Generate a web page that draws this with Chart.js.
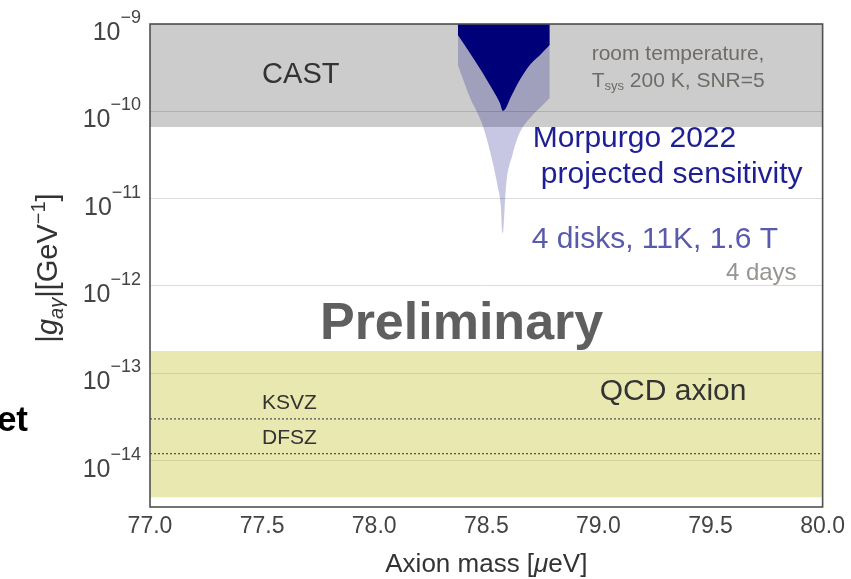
<!DOCTYPE html>
<html>
<head>
<meta charset="utf-8">
<script src="https://cdn.jsdelivr.net/npm/chart.js@4.4.1/dist/chart.umd.min.js"></script>
<style>
  html, body { margin: 0; padding: 0; background: #fff; }
  #wrap { position: relative; width: 851px; height: 579px; }
</style>
</head>
<body>
<div id="wrap"><canvas id="c"></canvas></div>
<script>
// Axion mass axis [µeV]
const massRange = [77.0, 80.0];
const massTicks = [77.0, 77.5, 78.0, 78.5, 79.0, 79.5, 80.0];

// Coupling axis |g_aγ| [GeV^-1], decades shown
const couplingExponents = [-14, -13, -12, -11, -10, -9];
const couplingRange = [2.94e-15, 1e-9];

// CAST exclusion limit
const castLimit = 6.6e-11;

// QCD axion band and benchmark models
const qcdBand = [3.8e-15, 1.8e-13];
const ksvzCoupling = 3.0e-14;
const dfszCoupling = 1.2e-14;

// Morpurgo 2022 projected sensitivity (room temperature, Tsys 200 K, SNR=5)
const morpurgoMass = [78.373, 78.426, 78.484, 78.529, 78.560, 78.574, 78.614, 78.649, 78.694, 78.739, 78.783];
const morpurgoCoupling = [7.5e-10, 4.7e-10, 2.75e-10, 1.75e-10, 1.25e-10, 1.01e-10, 1.54e-10, 2.28e-10, 3.4e-10, 4.4e-10, 5.75e-10];

// 4 disks, 11 K, 1.6 T, 4 days
const disksMass = [78.373, 78.426, 78.480, 78.507, 78.529, 78.551, 78.565, 78.569, 78.574, 78.578, 78.583, 78.591, 78.614, 78.636, 78.663, 78.707, 78.752, 78.783];
const disksCoupling = [3.39e-10, 1.46e-10, 7.35e-11, 4.34e-11, 2.56e-11, 1.36e-11, 8.0e-12, 4.7e-12, 4.0e-12, 5.3e-12, 8.9e-12, 1.64e-11, 3.0e-11, 4.7e-11, 6.6e-11, 9.1e-11, 1.18e-10, 1.42e-10];

const FONT = "'Liberation Sans', Arial, Helvetica, sans-serif";
const font = (size, style) => (style ? style + ' ' : '') + size + 'px ' + FONT;

const pts = (xs, ys) => xs.map((x, i) => ({ x: x, y: ys[i] }));
const flat = (y) => massRange.map(x => ({ x: x, y: y }));
const NONE = 'rgba(0,0,0,0)';

// Draw a run of differently styled text pieces on one baseline
function drawRuns(ctx, x, y, parts, align) {
  let total = 0;
  parts.forEach(p => { ctx.font = p.font; p.w = ctx.measureText(p.t).width; total += p.w; });
  let cx = align === 'right' ? x - total : align === 'center' ? x - total / 2 : x;
  parts.forEach(p => {
    ctx.font = p.font;
    ctx.fillStyle = p.color;
    ctx.fillText(p.t, cx, y + (p.dy || 0));
    cx += p.w;
  });
}

// Text labels placed in data coordinates (x in µeV, y as log10 of coupling, at cap-height centre)
const notes = [
  { x: 77.50, ly: -9.561, size: 29, align: 'left', parts: [{ t: 'CAST', color: '#333' }] },
  { x: 78.970, ly: -9.321, size: 21, align: 'left', parts: [{ t: 'room temperature,', color: '#6f6b66' }] },
  { x: 78.970, ly: -9.641, size: 21, align: 'left', parts: [
      { t: 'T', color: '#6f6b66' },
      { t: 'sys', color: '#6f6b66', size: 13, dy: 3 },
      { t: ' 200 K, SNR=5', color: '#6f6b66' }] },
  { x: 78.707, ly: -10.282, size: 30, align: 'left', parts: [{ t: 'Morpurgo 2022', color: '#1f1f95' }] },
  { x: 78.743, ly: -10.695, size: 30, align: 'left', parts: [{ t: 'projected sensitivity', color: '#1f1f95' }] },
  { x: 78.703, ly: -11.439, size: 30, align: 'left', parts: [{ t: '4 disks, 11K, 1.6 T', color: '#5a5aad' }] },
  { x: 79.884, ly: -11.828, size: 24, align: 'right', parts: [{ t: '4 days', color: '#99948f' }] },
  { x: 77.758, ly: -12.389, size: 52, align: 'left', style: 'bold', parts: [{ t: 'Preliminary', color: '#5f5f5f' }] },
  { x: 79.006, ly: -13.179, size: 30, align: 'left', parts: [{ t: 'QCD axion', color: '#333' }] },
  { x: 77.50, ly: -13.328, size: 21, align: 'left', parts: [{ t: 'KSVZ', color: '#333' }] },
  { x: 77.50, ly: -13.729, size: 21, align: 'left', parts: [{ t: 'DFSZ', color: '#333' }] }
];

const decorPlugin = {
  id: 'decor',
  afterDatasetsDraw(chart) {
    const ctx = chart.ctx;
    const a = chart.chartArea;
    const xs = chart.scales.x, ys = chart.scales.y;
    ctx.save();
    ctx.textBaseline = 'alphabetic';

    // annotations inside the axes
    notes.forEach(n => {
      const px = xs.getPixelForValue(n.x);
      const py = ys.getPixelForValue(Math.pow(10, n.ly)) + 0.358 * n.size;
      const parts = n.parts.map(p => ({
        t: p.t, color: p.color, dy: p.dy || 0,
        font: font(p.size || n.size, n.style)
      }));
      drawRuns(ctx, px, py, parts, n.align);
    });

    // axes frame
    ctx.strokeStyle = '#505050';
    ctx.lineWidth = 1.6;
    ctx.strokeRect(a.left, a.top, a.right - a.left, a.bottom - a.top);

    // y tick labels: 10 with superscript exponent
    couplingExponents.forEach(e => {
      const py = ys.getPixelForValue(Math.pow(10, e));
      drawRuns(ctx, a.left - 9, py + 16, [
        { t: '10', font: font(25), color: '#444' },
        { t: '\u2212' + Math.abs(e), font: font(18), color: '#444', dy: -17 }
      ], 'right');
    });

    // y axis title
    ctx.save();
    ctx.translate(57, 268);
    ctx.rotate(-Math.PI / 2);
    drawRuns(ctx, 0, 0, [
      { t: '|', font: font(29), color: '#333' },
      { t: 'g', font: font(29, 'italic'), color: '#333' },
      { t: 'a\u03b3', font: font(20, 'italic'), color: '#333', dy: 6 },
      { t: '|[GeV', font: font(29), color: '#333' },
      { t: '\u22121', font: font(20), color: '#333', dy: -12 },
      { t: ']', font: font(29), color: '#333' }
    ], 'center');
    ctx.restore();

    // x axis title
    drawRuns(ctx, (a.left + a.right) / 2, 572, [
      { t: 'Axion mass [', font: font(26), color: '#333' },
      { t: '\u03bc', font: font(26, 'italic'), color: '#333' },
      { t: 'eV]', font: font(26), color: '#333' }
    ], 'center');

    // slide heading fragment at the left edge
    ctx.font = font(35, 'bold');
    ctx.fillStyle = '#000';
    ctx.textAlign = 'right';
    ctx.fillText('et', 28, 431);
    ctx.restore();
  }
};

new Chart(document.getElementById('c'), {
  type: 'line',
  data: {
    datasets: [
      { label: 'KSVZ', data: flat(ksvzCoupling), borderColor: '#555', borderWidth: 1.2,
        borderDash: [2, 2], pointRadius: 0, fill: false, order: 1 },
      { label: 'DFSZ', data: flat(dfszCoupling), borderColor: '#555', borderWidth: 1.2,
        borderDash: [2, 2], pointRadius: 0, fill: false, order: 1 },
      { label: 'Morpurgo 2022', data: pts(morpurgoMass, morpurgoCoupling), borderColor: NONE,
        backgroundColor: '#000078', pointRadius: 0, fill: 'end', cubicInterpolationMode: 'monotone', order: 2 },
      { label: '4 disks, 11K, 1.6 T', data: pts(disksMass, disksCoupling), borderColor: NONE,
        backgroundColor: 'rgba(0,0,128,0.22)', pointRadius: 0, fill: 'end', cubicInterpolationMode: 'monotone', order: 3 },
      { label: 'QCD axion', data: flat(qcdBand[1]), borderColor: NONE,
        backgroundColor: 'rgba(189,189,29,0.35)', pointRadius: 0, fill: { value: qcdBand[0] }, order: 4 },
      { label: 'CAST', data: flat(castLimit), borderColor: NONE,
        backgroundColor: 'rgba(0,0,0,0.2)', pointRadius: 0, fill: 'end', order: 4 }
    ]
  },
  options: {
    responsive: true,
    maintainAspectRatio: false,
    animation: false,
    layout: { padding: { top: 24, right: 28, left: 0, bottom: 0 } },
    plugins: { legend: { display: false }, tooltip: { enabled: false } },
    scales: {
      x: {
        type: 'linear', min: massRange[0], max: massRange[1],
        grid: { display: false, drawTicks: false },
        border: { display: false },
        afterBuildTicks: s => { s.ticks = massTicks.map(v => ({ value: v })); },
        ticks: { font: { family: FONT, size: 23 }, color: '#444', padding: 6,
                 maxRotation: 0, autoSkip: false, callback: v => Number(v).toFixed(1) },
        afterFit: s => { s.height = 72; }
      },
      y: {
        type: 'logarithmic', min: couplingRange[0], max: couplingRange[1],
        grid: { color: '#dcdcdc', lineWidth: 1, drawTicks: false },
        border: { display: false },
        afterBuildTicks: s => { s.ticks = couplingExponents.map(e => ({ value: Math.pow(10, e) })); },
        ticks: { display: false },
        afterFit: s => { s.width = 150; }
      }
    }
  },
  plugins: [decorPlugin]
});
</script>
</body>
</html>
